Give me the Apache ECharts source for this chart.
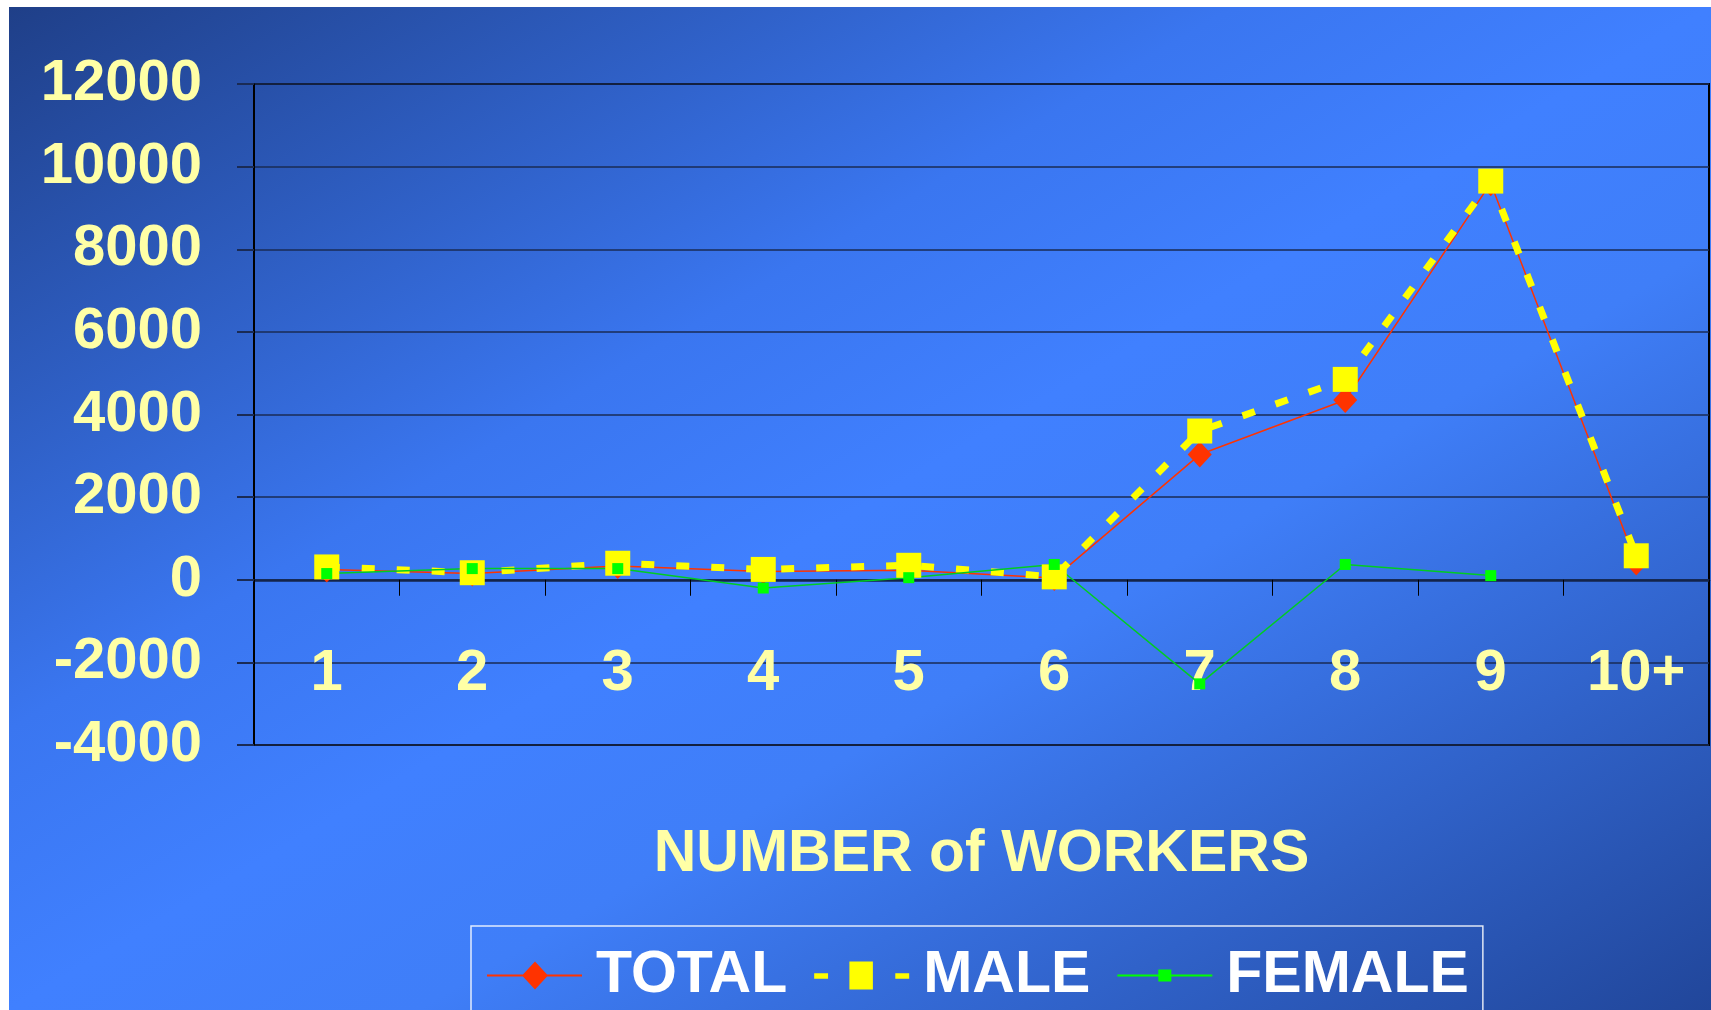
<!DOCTYPE html>
<html>
<head>
<meta charset="utf-8">
<script src="https://cdn.jsdelivr.net/npm/echarts@6/dist/echarts.min.js"></script>
<style>
  html, body { margin: 0; padding: 0; background: #fff; }
  #bg {
    position: absolute; left: 9px; top: 7px; width: 1702px; height: 1003px;
    background: linear-gradient(to bottom right, #1f3f88 0%, #3a76f0 36%, #4080ff 50%, #3f7ef8 62%, #21469a 100%);
  }
  #chart { position: absolute; left: 0; top: 0; width: 1711px; height: 1010px; }
</style>
</head>
<body>
<div id="bg"></div>
<div id="chart"></div>
<script>
// categories (number of workers)
const categories = ['1', '2', '3', '4', '5', '6', '7', '8', '9', '10+'];

// series values
const totalValues  = [250, 150, 330, 200, 230, 40, 3030, 4350, 9600, 420];
const maleValues   = [310, 170, 400, 250, 350, 70, 3600, 4850, 9650, 580];
const femaleValues = [150, 270, 270, -200, 50, 370, -2520, 370, 100, null];

// y axis range
const yMin = -4000;
const yMax = 12000;
const yStep = 2000;

const labelYellow = '#ffffa6';
const font = 'Liberation Sans';

// legend icons: line + marker, drawn as one path
const totalIcon  = 'path://M0 13L95 13L95 15L0 15Z M48 0L61 14L48 28L35 14Z';
const maleIcon   = 'path://M0 11L13 11L13 16L0 16Z M33 0L55 0L55 26L33 26Z M76 11L89 11L89 16L76 16Z';
const femaleIcon = 'path://M0 5L95 5L95 7L0 7Z M41 0L54 0L54 12L41 12Z';

const chart = echarts.init(document.getElementById('chart'));

chart.setOption({
  animation: false,
  backgroundColor: 'transparent',
  textStyle: { fontFamily: font },
  grid: {
    left: 254,
    right: 2,
    top: 84,
    bottom: 265,
    outerBoundsMode: 'none',
    containLabel: false,
    show: true,
    borderColor: '#000',
    borderWidth: 2,
    backgroundColor: 'transparent'
  },
  xAxis: [
    {
      // line and ticks sitting on zero
      type: 'category',
      data: categories,
      boundaryGap: true,
      axisLine: { onZero: true, lineStyle: { color: '#14244a', width: 2.5 } },
      axisTick: { show: true, interval: 0, length: 16, lineStyle: { color: '#000', width: 1 } },
      axisLabel: { show: false },
      splitLine: { show: false }
    },
    {
      // labels and title, placed from the bottom edge
      type: 'category',
      data: categories,
      boundaryGap: true,
      position: 'bottom',
      name: 'NUMBER of WORKERS',
      nameLocation: 'middle',
      nameGap: 80,
      nameMoveOverlap: false,
      nameTextStyle: { color: labelYellow, fontSize: 59, fontWeight: 'bold', fontFamily: font },
      axisLine: { show: false, onZero: false },
      axisTick: { show: false },
      axisLabel: { color: labelYellow, fontSize: 58, fontWeight: 'bold', fontFamily: font, margin: -100, interval: 0 },
      splitLine: { show: false }
    }
  ],
  yAxis: {
    type: 'value',
    min: yMin,
    max: yMax,
    interval: yStep,
    axisLine: { show: true, lineStyle: { color: '#000', width: 1 } },
    axisTick: { show: true, length: 17, lineStyle: { color: '#1a2b55', width: 2 } },
    axisLabel: {
      color: labelYellow, fontSize: 58, fontWeight: 'bold', fontFamily: font, margin: 52,
      formatter: v => String(v)
    },
    splitLine: { show: true, lineStyle: { color: '#1a2b55', width: 1.5 } }
  },
  legend: {
    left: 471,
    top: 926,
    padding: [20, 14, 30, 16],
    borderColor: 'rgba(255,255,255,0.85)',
    borderWidth: 1.5,
    itemWidth: 95,
    itemHeight: 28,
    itemGap: 27,
    symbolKeepAspect: true,
    textStyle: { color: '#fff', fontSize: 59, fontWeight: 'bold', fontFamily: font, padding: [0, 0, 0, 9] },
    data: [
      { name: 'TOTAL', icon: totalIcon },
      { name: 'MALE', icon: maleIcon },
      { name: 'FEMALE', icon: femaleIcon }
    ]
  },
  series: [
    {
      name: 'TOTAL',
      type: 'line',
      data: totalValues,
      color: '#ff3300',
      symbol: 'diamond',
      symbolSize: [24, 26],
      lineStyle: { color: '#ff3300', width: 1.5 },
      itemStyle: { color: '#ff3300' }
    },
    {
      name: 'MALE',
      type: 'line',
      data: maleValues,
      color: '#ffff00',
      symbol: 'rect',
      symbolSize: 25,
      lineStyle: { color: '#ffff00', width: 7, type: [13, 22] },
      itemStyle: { color: '#ffff00' }
    },
    {
      name: 'FEMALE',
      type: 'line',
      data: femaleValues,
      color: '#00ee00',
      symbol: 'rect',
      symbolSize: 11,
      connectNulls: false,
      lineStyle: { color: '#00cc22', width: 1.5 },
      itemStyle: { color: '#00ff00' }
    }
  ]
});
</script>
</body>
</html>
